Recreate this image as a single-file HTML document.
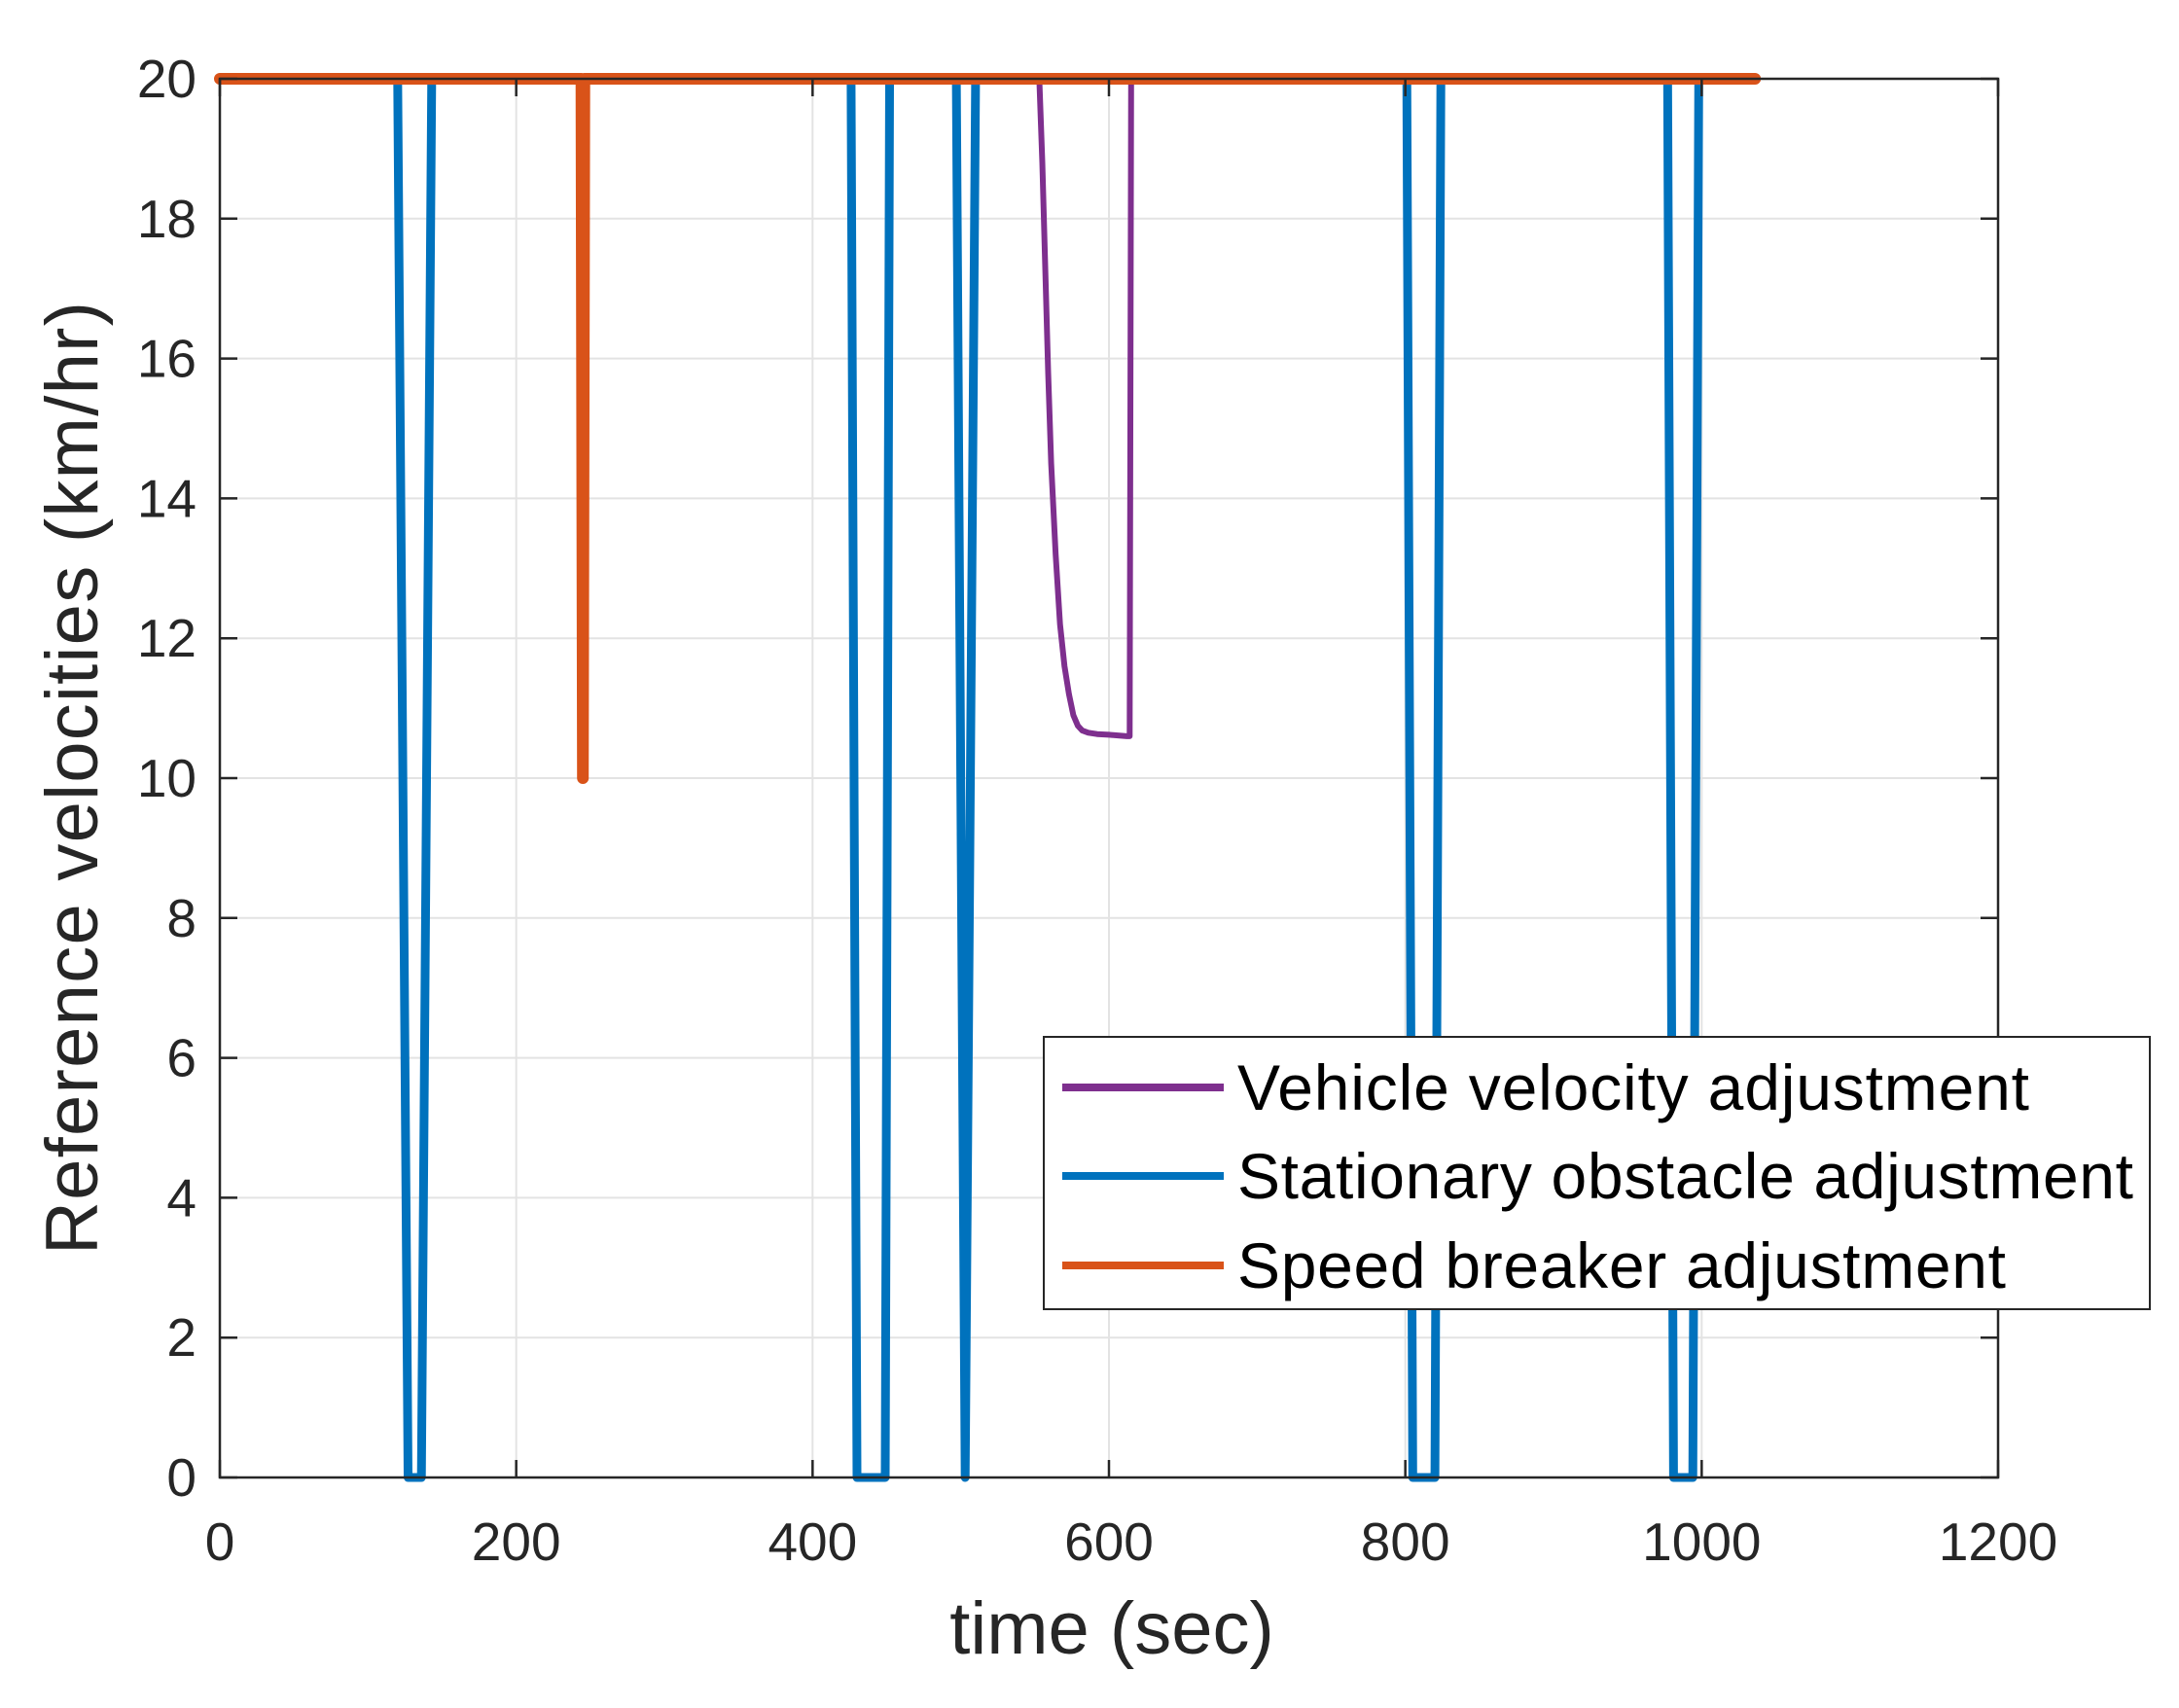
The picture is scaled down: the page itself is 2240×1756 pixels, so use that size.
<!DOCTYPE html>
<html><head><meta charset="utf-8"><style>
html,body{margin:0;padding:0;background:#fff;}
svg{display:block;font-family:"Liberation Sans",Arial,sans-serif;}
</style></head><body>
<svg id="chart" width="2240" height="1756" viewBox="0 0 2240 1756">
<g id="grid"></g>
<g id="series"></g>
<rect x="226" y="81" width="1828" height="1438" fill="none" stroke="#262626" stroke-width="2.5"/>
<g id="ticks"></g>
<text x="1143" y="1700" font-size="76" text-anchor="middle" fill="#262626">time (sec)</text>
<text transform="translate(100,800) rotate(-90)" font-size="76" text-anchor="middle" fill="#262626" textLength="980">Reference velocities (km/hr)</text>
<g>
<rect x="1073" y="1066" width="1137" height="280" fill="#fff" stroke="#262626" stroke-width="2"/>
<line x1="1092" y1="1118" x2="1258" y2="1118" stroke="#7e2f8e" stroke-width="8"/>
<text x="1272" y="1141" font-size="66" textLength="814" fill="#000">Vehicle velocity adjustment</text>
<line x1="1092" y1="1209" x2="1258" y2="1209" stroke="#0072bd" stroke-width="8"/>
<text x="1272" y="1232" font-size="66" textLength="921" fill="#000">Stationary obstacle adjustment</text>
<line x1="1092" y1="1301" x2="1258" y2="1301" stroke="#d95319" stroke-width="8"/>
<text x="1272" y="1324" font-size="66" textLength="790" fill="#000">Speed breaker adjustment</text>
</g>
</svg>
<script>
const xTicks=[0,200,400,600,800,1000,1200];
const yTicks=[0,2,4,6,8,10,12,14,16,18,20];
const vehicleT=[553,555,557,559,561,564,567,570,573,576,579,582,586,592,600,612,614,615];
const vehicleV=[20,18.8,17.3,15.8,14.5,13.2,12.2,11.6,11.2,10.9,10.75,10.68,10.65,10.63,10.62,10.6,10.6,20];
const stationaryT=[0,120,127,136,143,426,430,449,452,497,503,510,801,805,820,824,977,981,994,998,1036];
const stationaryV=[20,20,0,0,20,20,0,0,20,20,0,20,20,0,0,20,20,0,0,20,20];
const breakerT=[0,244,245,246,1036];
const breakerV=[20,20,10,20,20];
const L=226,R=2054,T=81,B=1519;
const xs=v=>L+(v-0)/(1200-0)*(R-L);
const ys=v=>B-(v-0)/(20-0)*(B-T);
const NS="http://www.w3.org/2000/svg";
function mk(tag,attrs,parent){const e=document.createElementNS(NS,tag);for(const k in attrs)e.setAttribute(k,attrs[k]);parent.appendChild(e);return e;}
const grid=document.getElementById('grid'),ticks=document.getElementById('ticks'),series=document.getElementById('series');
xTicks.forEach(t=>{
 const g=mk('line',{x1:xs(t),x2:xs(t),y1:T,y2:B,stroke:'#e3e3e3','stroke-width':2},grid);
 
 
 const a=mk('line',{x1:xs(t),x2:xs(t),y1:B,y2:B-18,stroke:'#262626','stroke-width':2.5},ticks);
 
 
 const b=mk('line',{x1:xs(t),x2:xs(t),y1:T,y2:T+18,stroke:'#262626','stroke-width':2.5},ticks);
 
 
 const l=mk('text',{x:xs(t),y:1604,'font-size':55,'text-anchor':'middle',fill:'#262626'},ticks);
 l.textContent=t;
 
 
});
yTicks.forEach(t=>{
 const g=mk('line',{x1:L,x2:R,y1:ys(t),y2:ys(t),stroke:'#e3e3e3','stroke-width':2},grid);
 
 
 const a=mk('line',{x1:L,x2:L+18,y1:ys(t),y2:ys(t),stroke:'#262626','stroke-width':2.5},ticks);
 
 
 const b=mk('line',{x1:R,x2:R-18,y1:ys(t),y2:ys(t),stroke:'#262626','stroke-width':2.5},ticks);
 
 
 const l=mk('text',{x:202,y:ys(t)+19,'font-size':55,'text-anchor':'end',fill:'#262626'},ticks);
 l.textContent=t;
 
 
});
function line(T_,V_,color,w,name){
 const d=T_.map((t,i)=>(i?'L':'M')+xs(t).toFixed(1)+','+ys(V_[i]).toFixed(1)).join(' ');
 const p=mk('path',{d:d,fill:'none',stroke:color,'stroke-width':w,'stroke-linejoin':'round','stroke-linecap':'round'},series);
 
 
}
line(vehicleT,vehicleV,'#7e2f8e',6,'vehicle-velocity-line');
line(stationaryT,stationaryV,'#0072bd',9,'stationary-obstacle-line');
line(breakerT,breakerV,'#d95319',12,'speed-breaker-line');
</script>
</body></html>
